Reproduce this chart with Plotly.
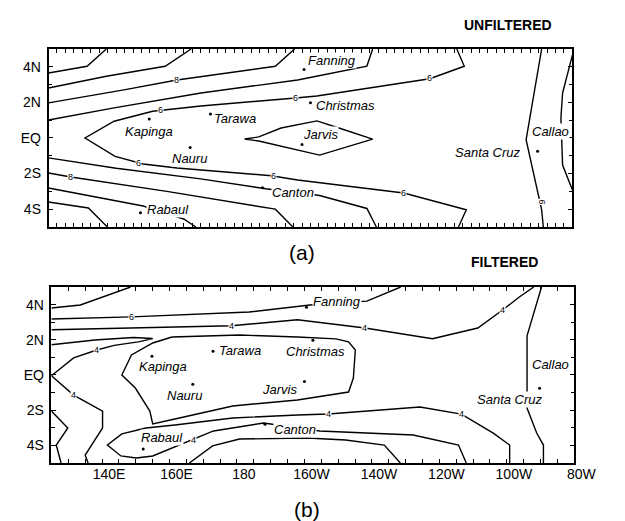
import plotly.graph_objects as go

# ---------------- data ----------------
# Station positions (lon in degrees east, lat in degrees)
station_names = ["Fanning", "Christmas", "Tarawa", "Kapinga", "Nauru", "Jarvis",
                 "Santa Cruz", "Canton", "Rabaul"]
station_lon = [200.6, 202.5, 172.9, 154.8, 166.9, 200.0, 269.7, 188.3, 152.2]
station_lat = [3.85, 1.98, 1.35, 1.07, -0.53, -0.37, -0.75, -2.8, -4.2]

# Station label anchors: (name, lon, lat, anchor)
labels_a = [("Fanning", 201.5, 4.38, "left"), ("Christmas", 203.8, 1.80, "left"),
            ("Tarawa", 173.8, 1.12, "left"), ("Kapinga", 154.7, 0.39, "center"),
            ("Nauru", 166.8, -1.18, "center"), ("Jarvis", 200.1, 0.17, "left"),
            ("Santa Cruz", 265.2, -0.79, "right"), ("Callao", 279.2, 0.39, "right"),
            ("Canton", 190.7, -3.09, "left"), ("Rabaul", 153.8, -4.04, "left")]
labels_b = [("Fanning", 202.2, 4.2, "left"), ("Christmas", 194.2, 1.36, "left"),
            ("Tarawa", 174.5, 1.42, "left"), ("Kapinga", 150.7, 0.51, "left"),
            ("Nauru", 159.0, -1.14, "left"), ("Jarvis", 187.1, -0.8, "left"),
            ("Santa Cruz", 250.8, -1.42, "left"), ("Callao", 267.1, 0.57, "left"),
            ("Canton", 190.8, -3.07, "left"), ("Rabaul", 151.3, -3.58, "left")]

# Panel (a) UNFILTERED contour polylines (lon, lat)
a_lines = [
    [(125, 3.65), (136.4, 4.03), (142.1, 5.0)],
    [(125, 2.81), (142.1, 3.47), (159.5, 4.03), (167.2, 5.0)],
    [(125, 1.97), (147.3, 2.70), (163, 3.26), (192.1, 4.03), (197.8, 5.0)],
    [(125, 1.01), (144.4, 1.69), (170.1, 2.53), (198.7, 3.26), (219.2, 4.04), (220.9, 5.0)],
    [(245.8, 5.0), (248, 4.03), (237.8, 3.33), (204.4, 2.36), (198.1, 2.25), (170.1, 1.80),
     (155.8, 1.50), (144.4, 0.94), (135.8, 0.0), (144.7, -1.03), (153, -1.46), (163, -1.69),
     (190.9, -2.12), (198.7, -2.36), (230.1, -3.09), (248.6, -4.03), (246.3, -5.0)],
    [(125, -1.12), (145, -1.7), (170, -2.3), (189.3, -2.85), (205.2, -3.23),
     (219.2, -3.96), (222, -5.0)],
    [(125, -1.97), (131.6, -2.19), (160, -3.0), (192.1, -4.0), (197.3, -5.0)],
    [(125, -2.81), (153, -3.82), (165, -4.55), (168.6, -5.0)],
    [(125, -3.6), (136.8, -3.93), (142.4, -5.0)],
    [(183, -0.06), (187.2, 0.06), (193.8, 0.56), (204.4, 0.96), (210.9, 0.56), (220.9, -0.06),
     (205.2, -0.96), (198.7, -0.66), (187.2, -0.17), (183, -0.06)],
    [(270.9, 5.0), (266.3, -0.1), (270.9, -4.04), (271.4, -5.0)],
    [(280, 4.66), (277.1, 2.53), (276.6, 1.12), (277.1, -1.52), (280, -2.92)],
]
a_clabels = [(163, 3.28, "8", 0), (158.1, 1.57, "6", 0), (198.1, 2.25, "6", 0),
             (237.8, 3.37, "6", 0), (151.5, -1.4, "6", 0), (191.5, -2.13, "6", 0),
             (230.1, -3.09, "6", 0), (131.6, -2.19, "8", 0), (270.9, -3.6, "6", 90)]

# Panel (b) FILTERED contour polylines (lon, lat)
b_lines = [
    [(125, 3.81), (133.58, 3.98), (148.45, 5.0)],
    [(125, 3.18), (148.73, 3.30), (183.62, 3.58), (201.64, 3.98), (218.51, 4.2), (228.52, 5.0)],
    [(125, 2.57), (178.47, 2.80), (197.92, 3.14), (217.94, 2.67), (237.95, 2.06),
     (251.39, 2.67), (258.83, 3.71), (263.69, 4.43), (267.98, 5.0)],
    [(270.27, 5.0), (265.98, 2.22), (265.98, -1.88), (268.84, -3.3), (270.84, -3.98),
     (270.84, -5.0)],
    [(160.75, 2.16), (180.76, 2.27), (197.92, 2.16), (209.36, 2.05), (213.08, 1.88),
     (215.08, 1.42), (214.5, -0.17), (213.08, -0.97), (197.92, -1.42), (178.76, -1.76),
     (161.6, -2.5), (155.03, -2.78), (154.17, -2.05), (149.88, -0.74), (145.88, 0.0),
     (148.73, 1.14), (155.03, 1.82), (160.75, 2.16)],
    [(125, 1.72), (137.87, 1.99), (149.31, 2.13), (155.03, 2.07), (150.74, 1.88),
     (143.59, 1.68), (138.44, 1.42), (131.58, 0.97), (125, -0.04), (131.58, -1.14),
     (140.16, -2.05), (140.16, -3.01), (135.01, -4.55), (135.87, -5.0)],
    [(125, -2.05), (129.86, -3.01), (126.43, -3.98), (127.86, -5.0)],
    [(260.83, -5.0), (260.83, -3.98), (255.97, -3.3), (246.53, -2.22), (234.24, -1.82),
     (207.07, -2.22), (197.92, -2.27), (178.76, -2.44), (161.6, -2.84), (153.02, -3.01),
     (145.88, -3.35), (141.59, -3.98), (145.59, -4.6), (150.16, -4.72), (155.03, -4.6),
     (160.75, -4.15), (167.04, -3.69), (173.04, -3.18), (187.91, -2.73), (204.5, -3.18),
     (232.24, -3.41), (245.67, -3.98), (247.96, -5.0)],
    [(165.89, -5.0), (172.76, -4.03), (180.76, -3.64), (200.78, -3.58), (212.22, -3.69),
     (223.66, -3.98), (228.43, -5.0)],
]
b_clabels = [(148.73, 3.30, "6", 0), (178.47, 2.80, "4", 0), (217.94, 2.67, "4", 0),
             (258.83, 3.71, "4", 0), (138.44, 1.44, "4", 0), (131.58, -1.14, "4", 0),
             (207.07, -2.22, "4", 0), (246.53, -2.22, "4", 0), (167.04, -3.69, "4", 0)]

lon_ticks = [140, 160, 180, 200, 220, 240, 260, 280]
lon_tick_text = ["140E", "160E", "180", "160W", "140W", "120W", "100W", "80W"]
lat_ticks = [-4, -2, 0, 2, 4]
lat_tick_text = ["4S", "2S", "EQ", "2N", "4N"]

# ---------------- figure ----------------
FONT = "Liberation Sans, Arial, Helvetica, sans-serif"
fig = go.Figure()


def add_lines(lines, xa, ya):
    for ln in lines:
        fig.add_trace(go.Scatter(x=[p[0] for p in ln], y=[p[1] for p in ln], mode="lines",
                                 line=dict(color="black", width=1.4), xaxis=xa, yaxis=ya,
                                 hoverinfo="skip", showlegend=False))


add_lines(a_lines, "x", "y")
add_lines(b_lines, "x2", "y2")

for xa, ya in (("x", "y"), ("x2", "y2")):
    fig.add_trace(go.Scatter(x=station_lon, y=station_lat, mode="markers",
                             marker=dict(color="black", size=3), xaxis=xa, yaxis=ya,
                             hoverinfo="skip", showlegend=False))

annotations = []
for labels, xr, yr in ((labels_a, "x", "y"), (labels_b, "x2", "y2")):
    for name, lx, ly, anc in labels:
        annotations.append(dict(x=lx, y=ly, xref=xr, yref=yr, text="<i>%s</i>" % name,
                                showarrow=False, xanchor=anc, yanchor="middle",
                                font=dict(family=FONT, size=13, color="black"),
                                bgcolor="white", borderpad=0))
for cl, xr, yr in ((a_clabels, "x", "y"), (b_clabels, "x2", "y2")):
    for lx, ly, t, ang in cl:
        annotations.append(dict(x=lx, y=ly, xref=xr, yref=yr, text=t, showarrow=False,
                                textangle=ang, xanchor="center", yanchor="middle",
                                font=dict(family=FONT, size=9, color="black"),
                                bgcolor="white", borderpad=0))

annotations += [
    dict(x=0.829, y=0.967, xref="paper", yref="paper", text="<b>UNFILTERED</b>",
         showarrow=False, xanchor="center", yanchor="middle",
         font=dict(family=FONT, size=14, color="black")),
    dict(x=0.824, y=0.5125, xref="paper", yref="paper", text="<b>FILTERED</b>",
         showarrow=False, xanchor="center", yanchor="middle",
         font=dict(family=FONT, size=14, color="black")),
    dict(x=0.488, y=0.530, xref="paper", yref="paper", text="(a)",
         showarrow=False, xanchor="center", yanchor="middle",
         font=dict(family=FONT, size=21, color="black")),
    dict(x=0.496, y=0.038, xref="paper", yref="paper", text="(b)",
         showarrow=False, xanchor="center", yanchor="middle",
         font=dict(family=FONT, size=21, color="black")),
]

axis_common = dict(range=[125, 280], showgrid=False, zeroline=False, showline=True,
                   linecolor="black", linewidth=1.5, mirror="ticks", ticks="inside",
                   ticklen=4, tickcolor="black", tickwidth=1)
yaxis_common = dict(range=[-5, 5], showgrid=False, zeroline=False, showline=True,
                    linecolor="black", linewidth=1.5, mirror="ticks", ticks="inside",
                    ticklen=5, tickcolor="black", tickwidth=1,
                    tickvals=lat_ticks, ticktext=lat_tick_text, ticklabelstandoff=3,
                    tickfont=dict(family=FONT, size=14, color="black"),
                    minor=dict(dtick=1, ticks="inside", ticklen=4, tickcolor="black"))

fig.update_layout(
    width=625, height=521, margin=dict(l=0, r=0, t=0, b=0),
    paper_bgcolor="white", plot_bgcolor="white", showlegend=False,
    xaxis=dict(domain=[0.0672, 0.936], anchor="y", tickvals=lon_ticks, showticklabels=False,
               minor=dict(dtick=2.5, tick0=125, ticks="inside", ticklen=4, tickcolor="black"),
               **axis_common),
    yaxis=dict(domain=[0.5797, 0.9213], anchor="x", **yaxis_common),
    xaxis2=dict(domain=[0.072, 0.9392], anchor="y2", tickvals=lon_ticks, ticktext=lon_tick_text,
                tickfont=dict(family=FONT, size=14, color="black"), ticklabelshift=7,
                ticklabelstandoff=-3,
                minor=dict(dtick=5, tick0=125, ticks="inside", ticklen=4, tickcolor="black"),
                **axis_common),
    yaxis2=dict(domain=[0.1267, 0.4645], anchor="x2", **yaxis_common),
    annotations=annotations,
)

fig.write_html("out.html")
